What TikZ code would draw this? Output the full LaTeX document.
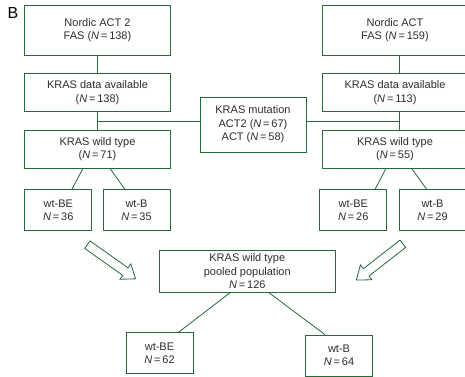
\documentclass[tikz,border=0pt]{standalone}
\usepackage{fontspec}
\setmainfont{Liberation Sans}
\usetikzlibrary{shapes.arrows}

\definecolor{framegreen}{RGB}{38,105,58}
\definecolor{textgray}{RGB}{45,45,45}

\tikzstyle{box} = [rectangle, draw=framegreen, line width=0.8pt, text=textgray, align=center, inner sep=1pt, font=\fontsize{11}{13.4}\selectfont]
\tikzstyle{bigbox} = [box, minimum width=146pt]
\tikzstyle{smallbox} = [box, minimum width=67pt, minimum height=41pt]
\tikzstyle{line} = [draw=framegreen, line width=0.8pt]
\tikzstyle{fatarrow} = [single arrow, draw=framegreen, line width=0.8pt, inner xsep=0pt, inner ysep=4.2pt, minimum height=59pt, single arrow head extend=4.8pt, single arrow tip angle=74]

\begin{document}
\begin{tikzpicture}[x=1pt, y=1pt]
  \useasboundingbox (0,0) rectangle (465,-376);

  \node (Label) at (13,-12.5) {\fontsize{16}{16}\selectfont B};

  % left trial
  \node (Nordic ACT2) [bigbox, minimum height=50pt] at (97.5,-30) {Nordic ACT 2\\FAS (\textit{N}\,=\,138)};
  \node (KRAS Data ACT2) [bigbox, minimum height=37.5pt] at (97.5,-92.5) {KRAS data available\\(\textit{N}\,=\,138)};
  \node (Wild Type ACT2) [bigbox, minimum height=38pt] at (97.5,-149) {KRAS wild type\\(\textit{N}\,=\,71)};
  \node (wtBE ACT2) [smallbox] at (58.3,-210.3) {wt-BE\\\textit{N}\,=\,36};
  \node (wtB ACT2) [smallbox] at (136.5,-210.3) {wt-B\\\textit{N}\,=\,35};

  % right trial
  \node (Nordic ACT) [bigbox, minimum height=50pt] at (395,-30) {Nordic ACT\\FAS (\textit{N}\,=\,159)};
  \node (KRAS Data ACT) [bigbox, minimum height=37.5pt] at (395,-92.5) {KRAS data available\\(\textit{N}\,=\,113)};
  \node (Wild Type ACT) [bigbox, minimum height=38pt] at (395,-149) {KRAS wild type\\(\textit{N}\,=\,55)};
  \node (wtBE ACT) [smallbox] at (353.3,-210.3) {wt-BE\\\textit{N}\,=\,26};
  \node (wtB ACT) [smallbox] at (432.5,-210.3) {wt-B\\\textit{N}\,=\,29};

  \node (Mutation) [box, minimum width=106pt, minimum height=55pt] at (253,-124.5) {KRAS mutation\\ACT2 (\textit{N}\,=\,67)\\ACT (\textit{N}\,=\,58)};

  % pooled
  \node (Pooled) [box, minimum width=176pt, minimum height=42.3pt] at (247.3,-271.2) {KRAS wild type\\pooled population\\\textit{N}\,=\,126};
  \node (wtBE Pooled) [smallbox] at (159.5,-353.3) {wt-BE\\\textit{N}\,=\,62};
  \node (wtB Pooled) [smallbox] at (339,-355.5) {wt-B\\\textit{N}\,=\,64};

  \node (Arrow Left) [fatarrow, rotate=-35.3] at (109,-260) {};
  \node (Arrow Right) [fatarrow, rotate=-142] at (382,-260) {};

  \draw [line] (Nordic ACT2) -- (KRAS Data ACT2);
  \draw [line] (KRAS Data ACT2) -- (Wild Type ACT2);
  \draw [line] ([yshift=3.5pt]Mutation.west) -| (KRAS Data ACT2.south);
  \draw [line] ([xshift=4.5pt]Nordic ACT.south) -- ([xshift=4.5pt]KRAS Data ACT.north);
  \draw [line] ([xshift=4.5pt]KRAS Data ACT.south) -- ([xshift=4.5pt]Wild Type ACT.north);
  \draw [line] ([yshift=3.5pt]Mutation.east) -| ([xshift=4.5pt]KRAS Data ACT.south);

  \draw [line] ([xshift=-14.5pt]Wild Type ACT2.south) -- ([xshift=13.5pt]wtBE ACT2.north);
  \draw [line] ([xshift=12.5pt]Wild Type ACT2.south) -- ([xshift=-11.5pt]wtB ACT2.north);
  \draw [line] ([xshift=-9pt]Wild Type ACT.south) -- ([xshift=21.7pt]wtBE ACT.north);
  \draw [line] ([xshift=16.7pt]Wild Type ACT.south) -- ([xshift=-5.8pt]wtB ACT.north);
  \draw [line] ([xshift=-17.3pt]Pooled.south) -- ([xshift=18.8pt]wtBE Pooled.north);
  \draw [line] ([xshift=21.7pt]Pooled.south) -- ([xshift=-14pt]wtB Pooled.north);
\end{tikzpicture}
\end{document}
